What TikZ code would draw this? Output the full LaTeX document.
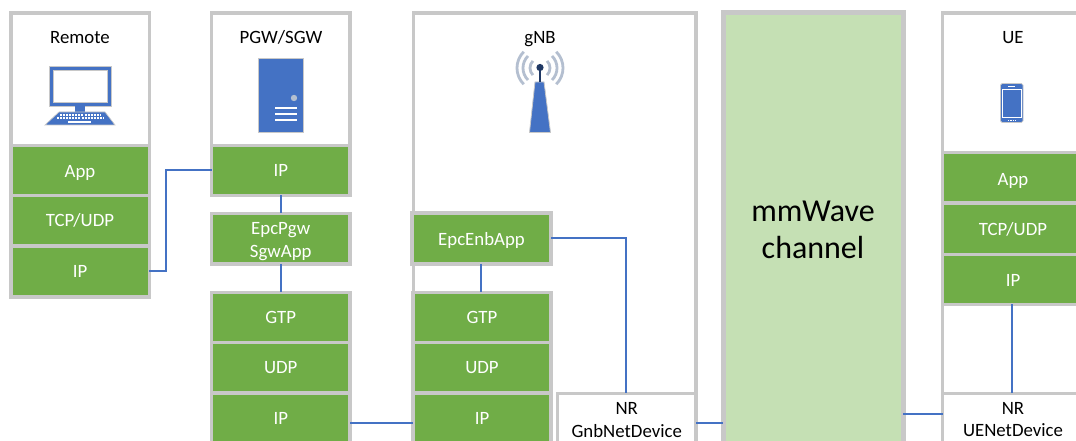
\documentclass[tikz,border=0pt]{standalone}
\usepackage{fontspec}
\setmainfont{Carlito}
\definecolor{edgegray}{HTML}{C8C8C8}
\definecolor{layergreen}{HTML}{70AD47}
\definecolor{chgreen}{HTML}{C5E0B4}
\definecolor{linkblue}{HTML}{4472C4}
\definecolor{darkblue}{HTML}{1F3864}
\definecolor{wavegray}{HTML}{B4BFD0}
\newcommand{\bx}[7]{\node[#6,minimum width={(#4-#2)*0.75pt},minimum height={(#5-#3)*0.75pt}] (#1) at ({(#2+#4)/2},{(#3+#5)/2}) {#7};}
\newcommand{\dn}[1]{\raisebox{-5.5pt}[0pt][0pt]{#1}}
\tikzset{
  shell/.style={draw=edgegray,line width=2.7pt,fill=white,inner sep=0pt,outer sep=0pt},
  layer/.style={shell,fill=layergreen,text=white,font=\fontsize{14.1}{17}\selectfont,align=center},
  plain/.style={shell,font=\fontsize{14.1}{17}\selectfont,align=center},
  channel/.style={draw=edgegray,line width=3.75pt,fill=chgreen,inner sep=0pt,outer sep=0pt},
  title/.style={font=\fontsize{14.1}{17}\selectfont,inner sep=0pt},
  link/.style={draw=linkblue,line width=1.5pt},
  icon/.style={draw=edgegray,line width=0.6pt,fill=linkblue},
  wave/.style={draw=wavegray,line width=2.1pt}
}
\begin{document}
\begin{tikzpicture}[x=0.75pt,y=-0.75pt]
\path[use as bounding box] (0,0) rectangle (1076,441);
\clip (0,0) rectangle (1076,441);
% Remote
\bx{remote}{10.7}{13.3}{149.3}{145.5}{shell}{}
\bx{rapp}{10.7}{145.5}{149.3}{195.5}{layer}{\dn{App}}
\bx{rtcp}{10.7}{195.5}{149.3}{246}{layer}{TCP/UDP}
\bx{rip}{10.7}{246}{149.3}{297}{layer}{IP}
% PGW
\bx{pgw}{211.5}{13.3}{350}{145.5}{shell}{}
\bx{pip}{211.5}{145.5}{350}{195.5}{layer}{IP}
\bx{papp}{211.5}{213.5}{350}{264}{layer}{\dn{EpcPgw}\\\dn{SgwApp}}
\bx{pgtp}{211.5}{292.5}{350}{342.5}{layer}{GTP}
\bx{pudp}{211.5}{342.5}{350}{393}{layer}{UDP}
\bx{pipb}{211.5}{393}{350}{443}{layer}{IP}
% gNB
\bx{gnb}{413.5}{13.3}{696}{470}{shell}{}
\bx{gapp}{412}{213}{551}{264}{layer}{\dn{EpcEnbApp}}
\bx{ggtp}{413}{292.5}{551}{342.5}{layer}{GTP}
\bx{gudp}{413}{342.5}{551}{393}{layer}{UDP}
\bx{gipb}{413}{393}{551}{443}{layer}{IP}
\bx{gnr}{557.5}{393.5}{696}{446}{plain}{NR\\GnbNetDevice}
% channel
\bx{chan}{723}{13}{903}{470}{channel}{}
\node[font=\fontsize{24}{28}\selectfont,align=center,inner sep=0pt] (chantext) at (813,230) {mmWave\\channel};
% UE
\bx{ue}{942.5}{13.3}{1100}{470}{shell}{}
\bx{uapp}{942.5}{152.5}{1100}{203}{layer}{}
\bx{utcp}{942.5}{203}{1100}{254.5}{layer}{}
\bx{uip}{942.5}{254.5}{1100}{304.5}{layer}{}
\bx{unr}{942.5}{393.5}{1100}{446}{plain}{}
\node[title,text=white] (uapptext) at (1013,181) {App};
\node[title,text=white] (utcptext) at (1013,229) {TCP/UDP};
\node[title,text=white] (uiptext) at (1013,280) {IP};
\node[title,align=center] (unrtext) at (1013,419.5) {NR\\UENetDevice};
% titles
\node[title] (t1) at (80,37.5) {Remote};
\node[title] (t2) at (281,37.5) {PGW/SGW};
\node[title] (t3) at (540,39) {gNB};
\node[title] (t4) at (1013,37.5) {UE};
% laptop
\fill[linkblue,draw=edgegray,line width=0.5pt] (49,66) rectangle (111.5,106);
\fill[white,draw=edgegray,line width=0.5pt] (53,70) rectangle (107.5,102);
\fill[linkblue] (75,106) rectangle (85,112);
\fill[linkblue,draw=edgegray,line width=0.5pt] (59,112) -- (105,112) -- (115,125) -- (45,125) -- cycle;
\draw[white,line width=1pt,dash pattern=on 1.5pt off 0.8pt] (60,115) -- (101,115);
\draw[white,line width=1pt,dash pattern=on 1.5pt off 0.8pt] (57,118) -- (104,118);
\draw[white,line width=1pt] (68,122) -- (91,122);
% server
\fill[icon] (258.5,58.5) rectangle (303,132.5);
\fill[wavegray] (294,98) circle (3.2);
\draw[white,line width=0.9pt] (275,108) -- (297,108) (275,114) -- (297,114) (275,120) -- (297,120);
% tower
\fill[icon] (535,82) -- (544,82) -- (550.5,132.5) -- (529.5,132.5) -- cycle;
\draw[darkblue,line width=1.4pt] (540,70) -- (540,82);
\fill[darkblue] (540,67.5) circle (3.6);
\foreach \r in {10,17,23}{
  \draw[wave] ({540+\r*cos(135)},{68+\r*sin(135)}) arc[start angle=225,end angle=135,radius=\r*0.75pt];
  \draw[wave] ({540+\r*cos(45)},{68+\r*sin(45)}) arc[start angle=-45,end angle=45,radius=\r*0.75pt];
}
% phone
\fill[icon,rounded corners=1.2pt] (1000.5,83.5) rectangle (1023,122.5);
\draw[white,line width=0.5pt] (1002.5,89.5) rectangle (1021,117);
\draw[white,line width=0.8pt] (1008,86.5) -- (1015,86.5);
\draw[white,line width=0.6pt,dash pattern=on 1pt off 0.8pt] (1008,120) -- (1016,120);
% connectors
\coordinate (elbow) at (165.5,0);
\coordinate (ylow) at (0,423);
\coordinate (gelbow) at (626,0);
\coordinate (ychan) at (0,414);
\coordinate (gx) at (481,0);
\draw[link] (rip.east) -- (rip.east -| elbow) -- (pip.west -| elbow) -- (pip.west);
\draw[link] (pip.south) -- (papp.north);
\draw[link] (papp.south) -- (pgtp.north);
\draw[link] (gapp.south -| gx) -- (ggtp.north -| gx);
\draw[link] (pipb.east |- ylow) -- (gipb.west |- ylow);
\draw[link] (gapp.east) -- (gapp.east -| gelbow) -- (gnr.north -| gelbow);
\draw[link] (gnr.east |- ylow) -- (chan.west |- ylow);
\draw[link] (chan.east |- ychan) -- (ue.west |- ychan);
\coordinate (ux) at (1012,0);
\draw[link] (uip.south -| ux) -- (unr.north -| ux);
\end{tikzpicture}
\end{document}
